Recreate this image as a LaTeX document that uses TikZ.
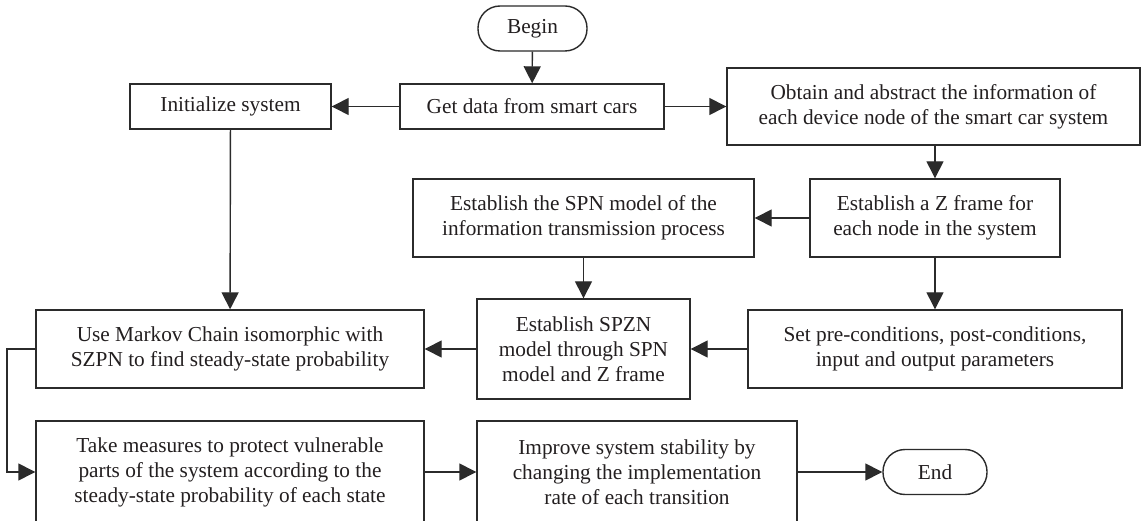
\documentclass[tikz,border=0pt]{standalone}
\usepackage{fontspec}
\setmainfont{Liberation Serif}
\usetikzlibrary{arrows.meta}
\definecolor{ink}{HTML}{2B2B2B}
\definecolor{txt}{HTML}{231F20}
\begin{document}
\begin{tikzpicture}[x=1pt,y=-1pt,
  every node/.style={font=\fontsize{21.3}{25}\selectfont, text=txt},
  box/.style={draw=ink, line width=1.4pt, rectangle, align=center, inner sep=0pt},
  term/.style={box, rounded corners=22pt},
  flow/.style={draw=ink, line width=1.4pt, -{Triangle[length=17pt,width=17pt]}}]
\useasboundingbox (0,0) rectangle (1141,521);
\clip (0,0) rectangle (1141,521);
\fill[white] (0,0) rectangle (1141,521);

% process steps
\node[term, minimum width=109pt, minimum height=45pt] (begin) at (532.5,28.5) {Begin};
\node[box, minimum width=264pt, minimum height=45pt] (get) at (532,106.5) {Get data from smart cars};
\node[box, minimum width=201pt, minimum height=45pt] (init) at (230.5,106.5) {Initialize system};
\node[box, minimum width=413pt, minimum height=77pt] (obtain) at (933.5,106.5)
  {Obtain and abstract the information of\\each device node of the smart car system};
\node[box, minimum width=250pt, minimum height=78pt] (zf) at (935,218)
  {Establish a Z frame for\\each node in the system};
\node[box, minimum width=341pt, minimum height=78pt] (spn) at (583.5,218)
  {Establish the SPN model of the\\information transmission process};
\node[box, minimum width=374pt, minimum height=78pt] (set) at (935,349)
  {Set pre-conditions, post-conditions,\\input and output parameters};
\node[box, minimum width=213pt, minimum height=100pt] (spzn) at (583.5,349)
  {Establish SPZN\\model through SPN\\model and Z frame};
\node[box, minimum width=388pt, minimum height=78pt] (markov) at (230,349)
  {Use Markov Chain isomorphic with\\SZPN to find steady-state probability};
\node[box, minimum width=388pt, minimum height=102pt] (take) at (230,472)
  {Take measures to protect vulnerable\\parts of the system according to the\\steady-state probability of each state};
\node[box, minimum width=320pt, minimum height=102pt] (improve) at (637,472)
  {Improve system stability by\\changing the implementation\\rate of each transition};
\node[term, minimum width=104pt, minimum height=45pt] (end) at (935,472) {End};

% connectors
\coordinate (loopa) at (7,349);
\coordinate (loopb) at (7,472);
\draw[flow] (begin) -- (get);
\draw[flow] (get) -- (init);
\draw[flow] (get) -- (obtain.west |- get.east);
\draw[flow] (zf.north |- obtain.south) -- (zf.north);
\draw[flow] (zf) -- (spn);
\draw[flow] (spn) -- (spzn);
\draw[flow] (zf) -- (set);
\draw[flow] (set) -- (spzn);
\draw[flow] (spzn) -- (markov);
\draw[flow] (init) -- (markov);
\draw[flow] (markov.west) -- (loopa) -- (loopb) -- (take.west);
\draw[flow] (take) -- (improve);
\draw[flow] (improve) -- (end);
\end{tikzpicture}
\end{document}
